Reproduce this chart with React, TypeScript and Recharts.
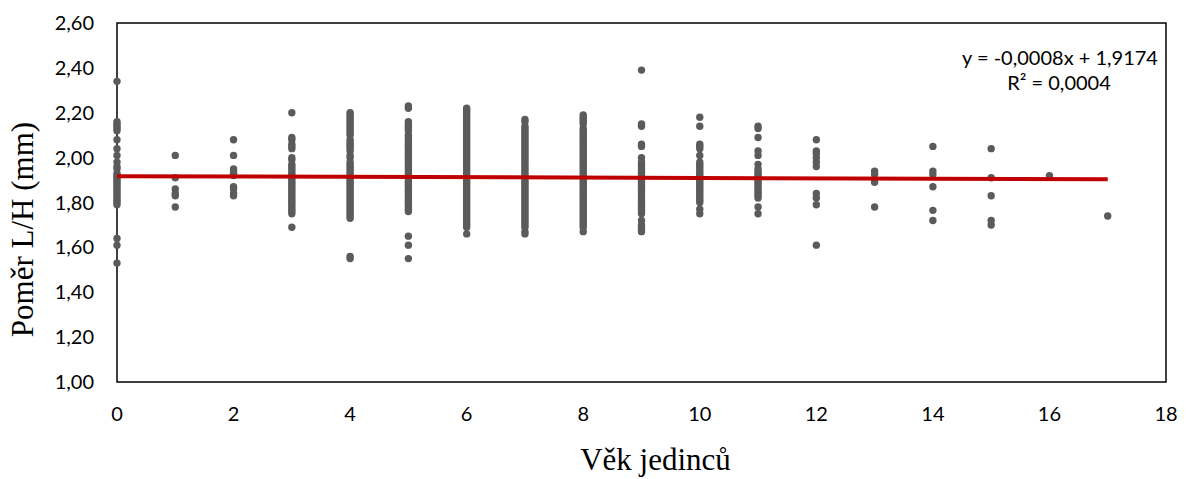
import { ScatterChart, Scatter, XAxis, YAxis, ReferenceArea } from 'recharts';

// Age of the individuals (x) and L/H ratio values measured for each age class
const ages = [0, 1, 2, 3, 4, 5, 6, 7, 8, 9, 10, 11, 12, 13, 14, 15, 16, 17];

const age0 = [2.34, 2.16, 2.15, 2.14, 2.13, 2.12, 2.08, 2.04, 2.01, 1.98, 1.96, 1.95, 1.93, 1.92, 1.91, 1.90, 1.89, 1.88, 1.87, 1.86, 1.85, 1.84, 1.83, 1.82, 1.81, 1.80, 1.79, 1.64, 1.61, 1.53];
const age1 = [2.01, 1.91, 1.86, 1.84, 1.83, 1.78];
const age2 = [2.08, 2.01, 1.95, 1.94, 1.93, 1.92, 1.87, 1.86, 1.84, 1.83];
const age3 = [2.20, 2.09, 2.08, 2.06, 2.05, 2.04, 2.00, 1.99, 1.97, 1.96, 1.95, 1.94, 1.93, 1.92, 1.91, 1.90, 1.89, 1.88, 1.87, 1.86, 1.85, 1.84, 1.83, 1.82, 1.81, 1.80, 1.79, 1.78, 1.77, 1.76, 1.75, 1.69];
const age4 = [2.20, 2.19, 2.18, 2.17, 2.16, 2.15, 2.14, 2.13, 2.12, 2.11, 2.10, 2.08, 2.07, 2.06, 2.05, 2.04, 2.03, 2.01, 2.00, 1.98, 1.97, 1.96, 1.95, 1.94, 1.93, 1.92, 1.91, 1.90, 1.89, 1.88, 1.87, 1.86, 1.85, 1.84, 1.83, 1.82, 1.81, 1.80, 1.79, 1.78, 1.77, 1.76, 1.75, 1.74, 1.73, 1.56, 1.55];
const age5 = [2.23, 2.22, 2.16, 2.15, 2.14, 2.13, 2.12, 2.10, 2.09, 2.08, 2.07, 2.06, 2.05, 2.04, 2.03, 2.02, 2.01, 2.00, 1.99, 1.98, 1.97, 1.96, 1.95, 1.94, 1.93, 1.92, 1.91, 1.90, 1.89, 1.88, 1.87, 1.86, 1.85, 1.84, 1.83, 1.82, 1.81, 1.80, 1.79, 1.78, 1.77, 1.76, 1.65, 1.61, 1.55];
const age6 = [2.22, 2.21, 2.20, 2.19, 2.18, 2.17, 2.16, 2.15, 2.14, 2.13, 2.12, 2.11, 2.10, 2.09, 2.08, 2.07, 2.06, 2.05, 2.04, 2.03, 2.02, 2.01, 2.00, 1.99, 1.98, 1.97, 1.96, 1.95, 1.94, 1.93, 1.92, 1.91, 1.90, 1.89, 1.88, 1.87, 1.86, 1.85, 1.84, 1.83, 1.82, 1.81, 1.80, 1.79, 1.78, 1.77, 1.76, 1.75, 1.74, 1.73, 1.72, 1.71, 1.70, 1.69, 1.66];
const age7 = [2.17, 2.16, 2.14, 2.13, 2.12, 2.11, 2.10, 2.09, 2.08, 2.07, 2.06, 2.05, 2.04, 2.03, 2.02, 2.01, 2.00, 1.99, 1.98, 1.97, 1.96, 1.95, 1.94, 1.93, 1.92, 1.91, 1.90, 1.89, 1.88, 1.87, 1.86, 1.85, 1.84, 1.83, 1.82, 1.81, 1.80, 1.79, 1.78, 1.77, 1.76, 1.75, 1.74, 1.73, 1.72, 1.71, 1.70, 1.69, 1.67, 1.66];
const age8 = [2.19, 2.18, 2.17, 2.16, 2.15, 2.13, 2.12, 2.11, 2.10, 2.09, 2.08, 2.07, 2.06, 2.05, 2.04, 2.03, 2.02, 2.01, 2.00, 1.99, 1.98, 1.97, 1.96, 1.95, 1.94, 1.93, 1.92, 1.91, 1.90, 1.89, 1.88, 1.87, 1.86, 1.85, 1.84, 1.83, 1.82, 1.81, 1.80, 1.79, 1.78, 1.77, 1.76, 1.75, 1.74, 1.73, 1.72, 1.71, 1.70, 1.69, 1.67];
const age9 = [2.39, 2.15, 2.14, 2.06, 2.05, 2.00, 1.98, 1.97, 1.96, 1.95, 1.94, 1.93, 1.92, 1.91, 1.90, 1.89, 1.88, 1.87, 1.86, 1.85, 1.84, 1.83, 1.82, 1.81, 1.80, 1.79, 1.78, 1.77, 1.76, 1.75, 1.72, 1.70, 1.69, 1.68, 1.67];
const age10 = [2.18, 2.14, 2.06, 2.05, 2.04, 2.01, 1.98, 1.97, 1.96, 1.95, 1.94, 1.93, 1.92, 1.91, 1.90, 1.89, 1.88, 1.87, 1.86, 1.85, 1.84, 1.83, 1.82, 1.81, 1.80, 1.77, 1.75];
const age11 = [2.14, 2.13, 2.09, 2.03, 2.01, 1.97, 1.95, 1.94, 1.93, 1.92, 1.91, 1.90, 1.89, 1.88, 1.87, 1.86, 1.85, 1.84, 1.83, 1.82, 1.78, 1.75];
const age12 = [2.08, 2.03, 2.02, 2.00, 1.98, 1.96, 1.84, 1.82, 1.79, 1.61];
const age13 = [1.94, 1.925, 1.89, 1.78];
const age14 = [2.05, 1.94, 1.925, 1.87, 1.765, 1.72];
const age15 = [2.04, 1.91, 1.83, 1.72, 1.70];
const age16 = [1.92];
const age17 = [1.74];

const ratiosByAge = [age0, age1, age2, age3, age4, age5, age6, age7, age8, age9, age10, age11, age12, age13, age14, age15, age16, age17];

// Linear trend line y = -0,0008x + 1,9174 (R² = 0,0004)
const trendSlope = -0.0008;
const trendIntercept = 1.9174;
const trendRange = [0, 17];

const xTicks = [0, 2, 4, 6, 8, 10, 12, 14, 16, 18];
const yTicks = [1.0, 1.2, 1.4, 1.6, 1.8, 2.0, 2.2, 2.4, 2.6];

const points = ages.flatMap((age, i) => ratiosByAge[i].map(ratio => ({ age, ratio })));
const trend = trendRange.map(age => ({ age, ratio: trendIntercept + trendSlope * age }));

const tickFont = { fill: '#000', fontSize: 20, fontFamily: 'Lato' };
const titleFont = { fill: '#000', fontSize: 31, fontFamily: '"Liberation Serif", "Times New Roman", serif' };

const formatRatio = (v: number) => v.toFixed(2).replace('.', ',');

const Dot = (props: any) => (
    <circle cx={props.cx} cy={props.cy} r={3.7} fill="#5B5B5B" />
);

const XTitle = (props: any) => {
    const { viewBox } = props;
    return (
        <text x={viewBox.x + viewBox.width / 2 + 14} y={viewBox.y + 88} textAnchor="middle" {...titleFont}>
            Věk jedinců
        </text>
    );
};

const YTitle = (props: any) => {
    const { viewBox } = props;
    const cx = 33;
    const cy = viewBox.y + viewBox.height / 2 + 27;
    return (
        <text x={cx} y={cy} transform={`rotate(-90 ${cx} ${cy})`} textAnchor="middle" {...titleFont}>
            Poměr L/H (mm)
        </text>
    );
};

export default function App() {
    return (
        <div style={{ position: 'absolute', left: 0, top: 0, width: 1193, height: 479, background: '#fff' }}>
            <ScatterChart width={1193} height={479} margin={{ top: 23, right: 27, bottom: 0, left: 0 }}>
                <XAxis
                    type="number"
                    dataKey="age"
                    domain={[0, 18]}
                    ticks={xTicks}
                    axisLine={false}
                    tickLine={false}
                    tickSize={0}
                    tickMargin={25}
                    height={97}
                    tick={tickFont}
                    label={<XTitle />}
                />
                <YAxis
                    type="number"
                    dataKey="ratio"
                    domain={[1, 2.6]}
                    ticks={yTicks}
                    axisLine={false}
                    tickLine={false}
                    tickSize={0}
                    tickMargin={23}
                    width={117}
                    tick={tickFont}
                    tickFormatter={formatRatio}
                    label={<YTitle />}
                />
                <ReferenceArea x1={0} x2={18} y1={1} y2={2.6} fill="none" stroke="#000" strokeWidth={1.5} />
                <Scatter data={points} shape={<Dot />} isAnimationActive={false} />
                <Scatter
                    data={trend}
                    line={{ stroke: '#C00000', strokeWidth: 4 }}
                    shape={() => <g />}
                    isAnimationActive={false}
                />
            </ScatterChart>
            <svg width={1193} height={479} style={{ position: 'absolute', left: 0, top: 0, pointerEvents: 'none' }}>
                <text x={1060} y={65} textAnchor="middle" fill="#000" fontSize={20} fontFamily="Lato">
                    y = -0,0008x + 1,9174
                </text>
                <text x={1059} y={90} textAnchor="middle" fill="#000" fontSize={20} fontFamily="Lato">
                    R² = 0,0004
                </text>
            </svg>
        </div>
    );
}
